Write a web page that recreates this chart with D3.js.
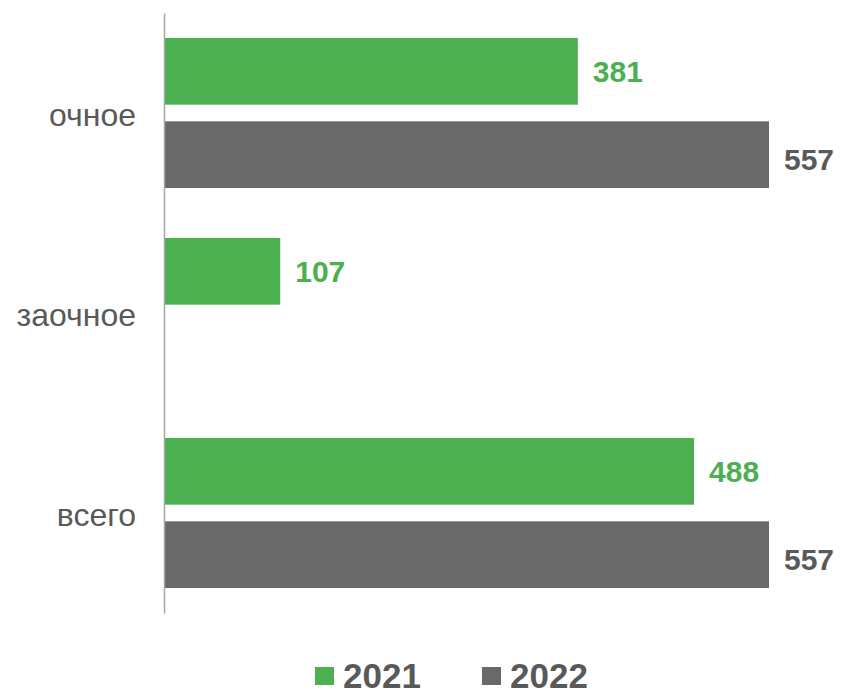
<!DOCTYPE html>
<html><head><meta charset="utf-8">
<script src="https://cdn.jsdelivr.net/npm/d3@7/dist/d3.min.js"></script>
<style>body{margin:0;background:#fff}svg{display:block}</style>
</head><body>
<svg id="chart" width="844" height="691"></svg>
<script>
const categories = ["очное", "заочное", "всего"];
const seriesNames = ["2021", "2022"];
const values2021 = [381, 107, 488];
const values2022 = [557, null, 557];
const seriesColors = ["#4caf50", "#696969"];

const svg = d3.select("#chart");
const font = "Liberation Sans, Arial, sans-serif";
const x = d3.scaleLinear().domain([0, 557]).range([164, 769]);
const y = d3.scaleBand().domain(categories).range([13, 613]);
const inner = d3.scaleBand().domain(seriesNames).range([25, 175]).paddingInner(0.2);

const data = [values2021, values2022];
seriesNames.forEach((s, si) => {
  const g = svg.append("g");
  categories.forEach((c, ci) => {
    const v = data[si][ci];
    if (v == null) return;
    const yy = y(c) + inner(s);
    g.append("rect").attr("x", x(0)).attr("y", yy)
      .attr("width", x(v) - x(0)).attr("height", inner.bandwidth())
      .attr("fill", seriesColors[si]);
    g.append("text").attr("x", x(v) + 15).attr("y", yy + inner.bandwidth() / 2 + (si ? 5 : 0))
      .attr("dominant-baseline", "central")
      .attr("font-family", font).attr("font-weight", "bold").attr("font-size", 30)
      .attr("fill", si ? "#595959" : seriesColors[0]).text(v);
  });
});

// category axis
const axis = svg.append("g").attr("transform", `translate(${x(0)},0)`)
  .call(d3.axisLeft(y).tickSize(0).tickPadding(28));
axis.select(".domain").attr("stroke", "#a6a6a6").attr("stroke-width", 1.5);
axis.selectAll("text").attr("font-family", font).attr("font-size", 32)
  .attr("fill", "#595959").attr("dy", "0.42em");

// legend
const legendX = [315, 482];
seriesNames.forEach((s, i) => {
  svg.append("rect").attr("x", legendX[i]).attr("y", 667).attr("width", 19).attr("height", 18)
    .attr("fill", seriesColors[i]);
  svg.append("text").attr("x", legendX[i] + 28).attr("y", 688)
    .attr("font-family", font).attr("font-weight", "bold").attr("font-size", 35)
    .attr("fill", "#595959").text(s);
});
</script>
</body></html>
